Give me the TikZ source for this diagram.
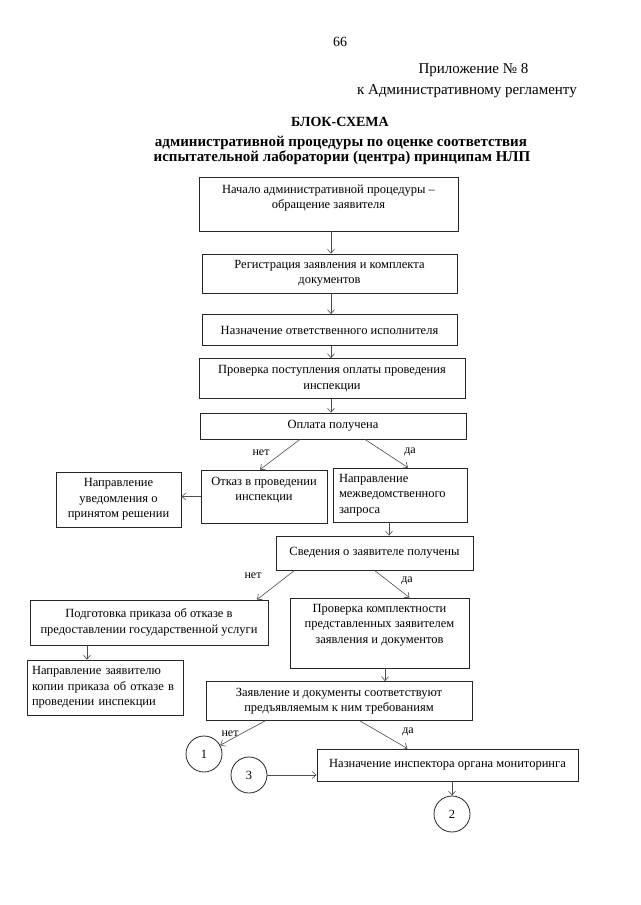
\documentclass[tikz,border=0pt]{standalone}
\usepackage{fontspec}
\setmainfont{Liberation Serif}
\usetikzlibrary{arrows.meta}
\begin{document}
\begin{tikzpicture}[x=1pt,y=-1pt,
 box/.style={draw=black!85, line width=0.8pt, rectangle, inner sep=0pt, align=center, font=\fontsize{12.5}{15.5}\selectfont},
 txt/.style={inner sep=0pt, align=center, font=\fontsize{12.5}{15.5}\selectfont},
 arr/.style={draw=black!70, line width=0.6pt, -{Straight Barb[length=4pt,width=7pt]}},
 lbl/.style={inner sep=0pt, font=\fontsize{12}{14}\selectfont},
 circ/.style={draw=black!85, line width=0.8pt, circle, minimum size=36pt, inner sep=0pt, font=\fontsize{12.5}{15}\selectfont},
 hdr/.style={inner sep=0pt, font=\fontsize{15}{18}\selectfont},
 ttl/.style={inner sep=0pt, font=\fontsize{15}{17}\selectfont\bfseries},
]
\useasboundingbox[fill=white] (0,0) rectangle (640,905);

% header
\node[inner sep=0pt, font=\fontsize{14}{16}\selectfont] (pg) at (340,42) {66};
\node[hdr] (app1) at (473.5,70) {Приложение № 8};
\node[hdr] (app2) at (467,91) {к Административному регламенту};
\node[ttl, font=\fontsize{14}{17}\selectfont\bfseries] (t1) at (340,122) {БЛОК-СХЕМА};
\node[ttl] (t2) at (341,143) {административной процедуры по оценке соответствия};
\node[ttl] (t3) at (342,158) {испытательной лаборатории (центра) принципам НЛП};

% boxes
\node[box, minimum width=259pt, minimum height=54pt] (start) at (328.5,204) {};
\node[txt] (startT) at (328.5,198) {Начало административной процедуры –\\обращение заявителя};
\node[box, minimum width=255pt, minimum height=39pt] (reg) at (329.5,273.5) {Регистрация заявления и комплекта\\документов};
\node[box, minimum width=255pt, minimum height=31pt] (nazn) at (329.5,330) {Назначение ответственного исполнителя};
\node[box, minimum width=266pt, minimum height=40pt] (prov) at (332,378.5) {Проверка поступления оплаты проведения\\инспекции};
\node[box, minimum width=266pt, minimum height=26pt] (opl) at (333,426) {Оплата получена};

\node[box, minimum width=126pt, minimum height=53pt] (otk) at (264,496.5) {};
\node[txt] (otkT) at (264,490) {Отказ в проведении\\инспекции};
\node[box, minimum height=54pt, inner xsep=6pt, text width=122pt, align=left] (napr) at (400,495) {Направление\\межведомственного\\запроса};
\node[box, minimum width=125pt, minimum height=55pt] (uved) at (118.5,499.5) {Направление\\уведомления о\\принятом решении};

\node[box, minimum width=197pt, minimum height=34pt] (sved) at (374.5,553) {Сведения о заявителе получены};
\node[box, minimum width=238pt, minimum height=45pt] (podg) at (149,622.5) {Подготовка приказа об отказе в\\предоставлении государственной услуги};
\node[box, minimum width=179pt, minimum height=70pt] (provk) at (379.5,633) {};
\node[txt] (provkT) at (379.5,625) {Проверка комплектности\\представленных заявителем\\заявления и документов};
\node[box, minimum height=55pt, inner xsep=5pt, text width=146pt, align=left] (napz) at (105,687.5) {Направление заявителю\\копии приказа об отказе в\\проведении инспекции};
\node[box, minimum width=266pt, minimum height=39pt] (zayav) at (339,701) {Заявление и документы соответствуют\\предъявляемым к ним требованиям};
\node[box, minimum width=261pt, minimum height=32pt] (insp) at (447.5,765) {Назначение инспектора органа мониторинга};

\node[circ] (c1) at (204,754) {1};
\node[circ] (c3) at (249,775) {3};
\node[circ] (c2) at (452,814) {2};

% vertical/horizontal arrows
\draw[arr] ([xshift=2.5pt]start.south) -- ([xshift=2.5pt]start.south |- reg.north);
\draw[arr] ([xshift=1.5pt]reg.south) -- ([xshift=1.5pt]reg.south |- nazn.north);
\draw[arr] ([xshift=1.5pt]nazn.south) -- ([xshift=1.5pt]nazn.south |- prov.north);
\draw[arr] ([xshift=-1pt]prov.south) -- ([xshift=-1pt]prov.south |- opl.north);
\draw[arr] (otk.west) -- (otk.west -| uved.east);
\draw[arr] ([xshift=-11pt]napr.south) -- ([xshift=-11pt]napr.south |- sved.north);
\draw[arr] ([xshift=-62pt]podg.south) -- ([xshift=-62pt]podg.south |- napz.north);
\draw[arr] ([xshift=5.5pt]provk.south) -- ([xshift=5.5pt]provk.south |- zayav.north);
\draw[arr] (c3.east) -- (c3.east -| insp.west);
\draw[arr] (insp.south -| c2.north) -- (c2.north);

% diagonal arrows
\draw[arr] ([xshift=-33pt]opl.south) -- ([xshift=-4pt]otk.north);
\draw[arr] ([xshift=32pt]opl.south) -- ([xshift=8pt]napr.north);
\draw[arr] ([xshift=-80pt]sved.south) -- ([xshift=108pt]podg.north);
\draw[arr] (sved.south) -- ([xshift=30pt]provk.north);
\draw[arr] ([xshift=-74pt]zayav.south) -- (c1);
\draw[arr] ([xshift=21pt]zayav.south) -- ([xshift=-40pt]insp.north);

% labels
\node[lbl] (l1) at (261,453) {нет};
\node[lbl] (l2) at (410,452) {да};
\node[lbl] (l3) at (253,576) {нет};
\node[lbl] (l4) at (407,581) {да};
\node[lbl] (l5) at (230,734) {нет};
\node[lbl] (l6) at (408,732) {да};
\end{tikzpicture}
\end{document}
